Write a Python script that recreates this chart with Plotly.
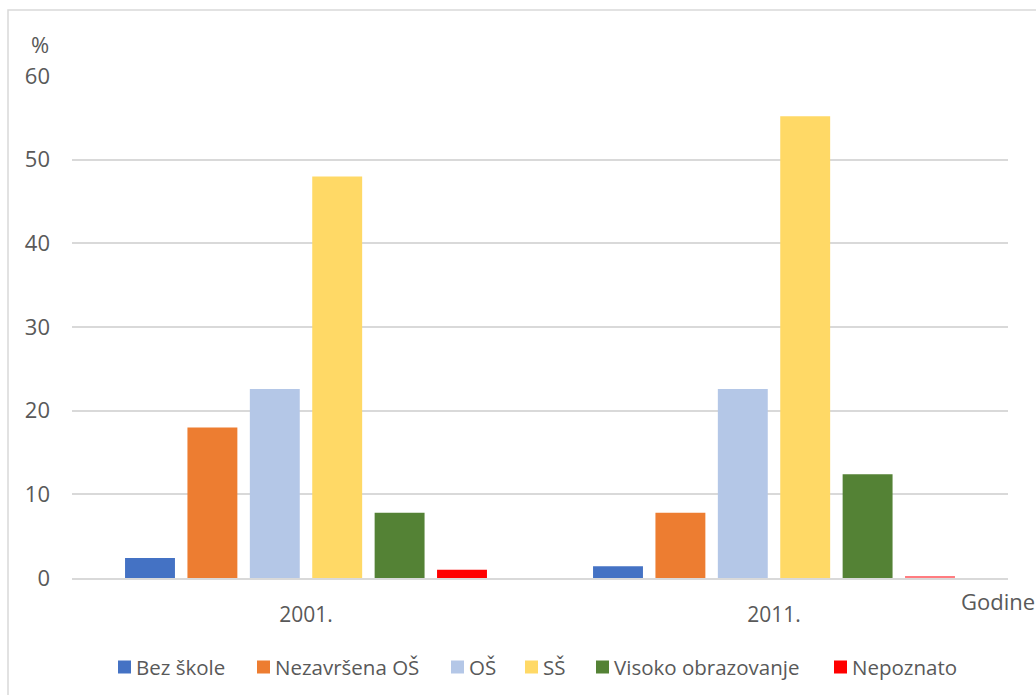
import plotly.graph_objects as go

years = ["2001.", "2011."]
series_names = ["Bez škole", "Nezavršena OŠ", "OŠ", "SŠ", "Visoko obrazovanje", "Nepoznato"]
bez_skole = [2.4, 1.4]
nezavrsena_os = [18.0, 7.8]
os_vals = [22.6, 22.6]
ss_vals = [48.0, 55.2]
visoko = [7.8, 12.4]
nepoznato = [1.0, 0.2]
values = [bez_skole, nezavrsena_os, os_vals, ss_vals, visoko, nepoznato]
colors = ["#4472C4", "#ED7D31", "#B4C7E7", "#FFD966", "#548235", ["#FF0000", "#FF7C80"]]
legend_colors = ["#4472C4", "#ED7D31", "#B4C7E7", "#FFD966", "#548235", "#FF0000"]
y_ticks = [0, 10, 20, 30, 40, 50, 60]

FONT = "Open Sans"
TXT = "#595959"

fig = go.Figure()
for name, vals, col in zip(series_names, values, colors):
    fig.add_trace(go.Bar(x=years, y=vals, name=name, showlegend=False,
                         marker=dict(color=col, line=dict(width=0))))

L, R, T, B = 72, 28, 76, 117
W, H = 1036, 695
pw = W - L - R
ph = H - T - B

def px_x(x):
    return (x - L) / pw

def px_y(y):
    return (H - B - y) / ph

shapes = [dict(type="rect", xref="paper", yref="paper",
               x0=px_x(8), x1=px_x(1045), y0=px_y(10), y1=px_y(705),
               line=dict(color="#D9D9D9", width=1.5), fillcolor="rgba(0,0,0,0)", layer="below")]
annotations = [
    dict(text="%", xref="paper", yref="paper", x=px_x(51), y=px_y(44), xanchor="right", yanchor="middle",
         showarrow=False, font=dict(family=FONT, size=22, color=TXT)),
    dict(text="Godine", xref="paper", yref="paper", x=px_x(959), y=px_y(601), xanchor="left", yanchor="middle",
         showarrow=False, font=dict(family=FONT, size=22, color=TXT)),
]

# manual legend (layout positions)
leg_sq_x = [118, 257, 451, 525, 596, 834]
leg_y = 667
for sx, name, col in zip(leg_sq_x, series_names, legend_colors):
    shapes.append(dict(type="rect", xref="paper", yref="paper",
                       x0=px_x(sx), x1=px_x(sx + 13), y0=px_y(leg_y - 6.5), y1=px_y(leg_y + 6.5),
                       line=dict(width=0), fillcolor=col))
    annotations.append(dict(text=name, xref="paper", yref="paper", x=px_x(sx + 16), y=px_y(leg_y),
                            xanchor="left", yanchor="middle", showarrow=False,
                            font=dict(family=FONT, size=20.5, color=TXT)))

fig.update_layout(
    width=W, height=H,
    margin=dict(l=L, r=R, t=T, b=B),
    paper_bgcolor="white", plot_bgcolor="white",
    barmode="group", bargap=0.2, bargroupgap=0.2,
    font=dict(family=FONT, size=20, color=TXT),
    showlegend=False,
    xaxis=dict(showgrid=False, showline=True, linecolor="#D9D9D9", linewidth=1.5,
               ticks="", ticklabelstandoff=17, tickfont=dict(size=21, color=TXT)),
    yaxis=dict(range=[0, 60], tickvals=y_ticks, showgrid=True, gridcolor="#D9D9D9", gridwidth=1.5,
               zeroline=False, showline=False, ticks="", ticklabelstandoff=21,
               tickfont=dict(size=22, color=TXT)),
    shapes=shapes,
    annotations=annotations,
)

fig.write_html("out.html", config={"displayModeBar": False},
               post_script="document.body.style.margin='0';document.body.style.overflow='hidden';")
